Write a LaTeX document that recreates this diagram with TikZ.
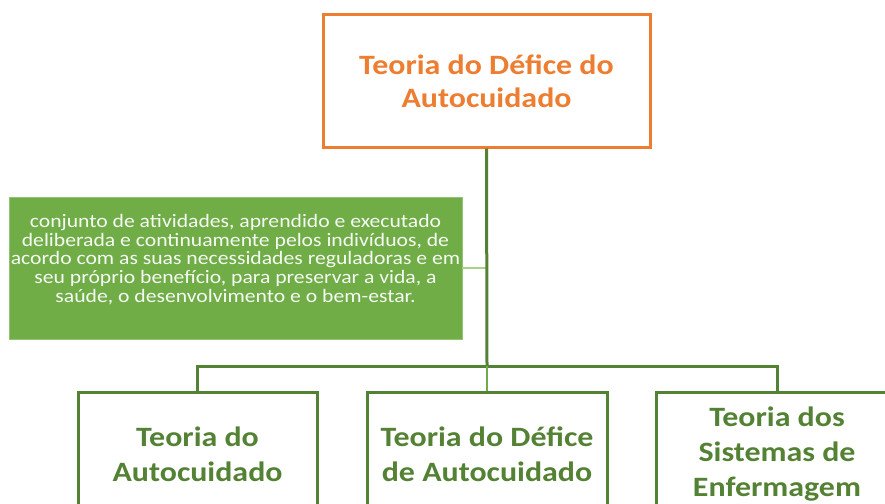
\documentclass[tikz,border=0pt]{standalone}
\usepackage{fontspec}
\setmainfont{Carlito}[FakeStretch=1.14]
\definecolor{orng}{HTML}{ED7D31}
\definecolor{dgreen}{HTML}{548235}
\definecolor{mgreen}{HTML}{70AD47}
\definecolor{lgreen}{HTML}{A9D18E}
\tikzset{
  topbox/.style={draw=orng, line width=3pt, fill=white, text=orng, font=\bfseries\fontsize{28}{33}\selectfont, align=center, minimum width=327pt, minimum height=132pt, inner sep=0pt},
  notebox/.style={fill=mgreen, draw=lgreen!60!mgreen, line width=0.8pt, minimum width=453pt, minimum height=142pt, inner sep=0pt},
  notetext/.style={text=white!94!mgreen, font=\fontsize{19}{18.6}\selectfont, align=center, inner sep=0pt},
  theorybox/.style={draw=dgreen, line width=3pt, fill=white, text=dgreen, font=\bfseries\fontsize{28}{35}\selectfont, align=center, minimum height=124pt, inner sep=0pt, anchor=north},
  conn/.style={draw=dgreen, line width=3pt},
  thinconn/.style={draw=mgreen, line width=1.2pt},
  noteconn/.style={draw=lgreen, line width=2pt}
}
\begin{document}
\begin{tikzpicture}[x=1pt,y=-1pt]
\useasboundingbox (0,0) rectangle (885,503);
\clip (0,0) rectangle (885,503);
\node[topbox] (top) at (486.5,81) {Teoria do Défice do\\Autocuidado};
\node[notebox] (note) at (235.5,268) {};
\node[notetext] (notetxt) at (235.5,259.5) {conjunto de atividades, aprendido e executado\\deliberada e continuamente pelos indivíduos, de\\acordo com as suas necessidades reguladoras e em\\seu próprio benefício, para preservar a vida, a\\saúde, o desenvolvimento e o bem-estar.};
\node[theorybox, minimum width=239pt] (b1) at (197.5,391) {Teoria do\\Autocuidado};
\node[theorybox, minimum width=240pt] (b2) at (487,391) {Teoria do Défice\\de Autocuidado};
\node[theorybox, minimum width=242pt] (b3) at (777,391) {Teoria dos\\Sistemas de\\Enfermagem};
\coordinate (bus) at (487,366);
\draw[noteconn] (note.east) -- (note.east -| top.south);
\draw[conn] (top.south) -- (bus);
\draw[conn] (b1.north) |- (bus) -| (b3.north);
\draw[thinconn] (bus) -- (b2.north);
\end{tikzpicture}
\end{document}
